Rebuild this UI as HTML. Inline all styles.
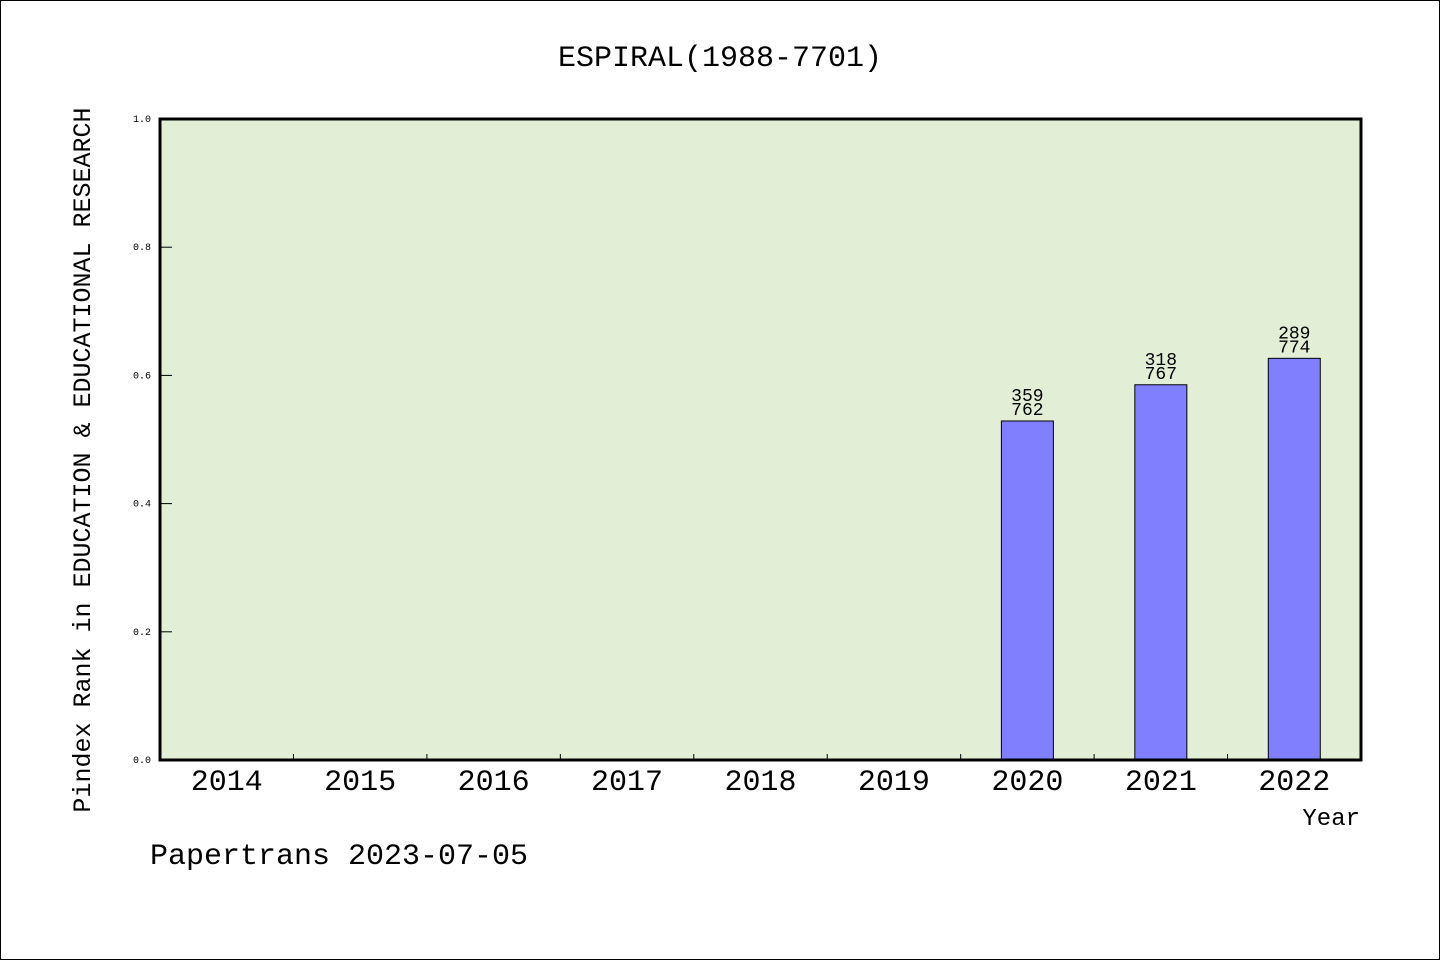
<!DOCTYPE html>
<html><head><meta charset="utf-8"><style>
body{margin:0;background:#fff}
svg text{font-family:"Liberation Mono","WenQuanYi Zen Hei",monospace;fill:#000}
</style></head><body>
<svg id="chart" width="1440" height="960" xmlns="http://www.w3.org/2000/svg">
<rect x="0.5" y="0.5" width="1439" height="959" fill="#fff" stroke="#000"/>
<text x="720" y="66" font-size="30" text-anchor="middle">ESPIRAL(1988-7701)</text>
<rect x="160" y="119" width="1201" height="641" fill="#e2efd6"/>
<g id="marks"></g>
<rect x="160" y="119" width="1201" height="641" fill="none" stroke="#000" stroke-width="3"/>
<text transform="translate(90,460) rotate(-90)" font-size="25" text-anchor="middle">Pindex Rank in EDUCATION &amp; EDUCATIONAL RESEARCH</text>
<text x="1360" y="825" font-size="24" text-anchor="end">Year</text>
<text x="150" y="864" font-size="30">Papertrans 2023-07-05</text>
</svg>
<script>
const categories=["2014","2015","2016","2017","2018","2019","2020","2021","2022"];
const ranks=[null,null,null,null,null,null,359,318,289];
const totals=[null,null,null,null,null,null,762,767,774];
const yTicks=[0,0.2,0.4,0.6,0.8,1.0];
const NS="http://www.w3.org/2000/svg";
const X0=160,W=1201,Y0=760,H=641;
const bw=W/categories.length;
function xPos(i){return X0+bw*(i+0.5);}
function yPos(v){return Y0-v*H;}
const g=document.getElementById('marks');
function mk(t,a){const e=document.createElementNS(NS,t);for(const k in a)e.setAttribute(k,a[k]);g.appendChild(e);return e;}
yTicks.forEach(v=>{
  const l=mk('line',{x1:X0,x2:X0+12,y1:yPos(v),y2:yPos(v),stroke:'#000','stroke-width':1});
  
  
  const t=mk('text',{x:X0-9,y:yPos(v)+3,'font-size':10,'text-anchor':'end'});
  
  
  t.textContent=v.toFixed(1);
});
categories.forEach((c,i)=>{
  if(i>0){
    const l=mk('line',{x1:X0+bw*i,x2:X0+bw*i,y1:Y0,y2:Y0-6,stroke:'#000','stroke-width':1});
    
    
  }
  const t=mk('text',{x:xPos(i),y:Y0+30,'font-size':30,'text-anchor':'middle'});
  
  
  t.textContent=c;
  if(ranks[i]!=null){
    const v=1-ranks[i]/totals[i];
    const r=mk('rect',{x:xPos(i)-26,y:yPos(v),width:52,height:Y0-yPos(v),fill:'#8080ff',stroke:'#000','stroke-width':1});
    
    
    const a=mk('text',{x:xPos(i),y:yPos(v)-20,'font-size':18,'text-anchor':'middle'});
    
    
    a.textContent=ranks[i];
    const b=mk('text',{x:xPos(i),y:yPos(v)-6,'font-size':18,'text-anchor':'middle'});
    
    
    b.textContent=totals[i];
  }
});
</script>
</body></html>
